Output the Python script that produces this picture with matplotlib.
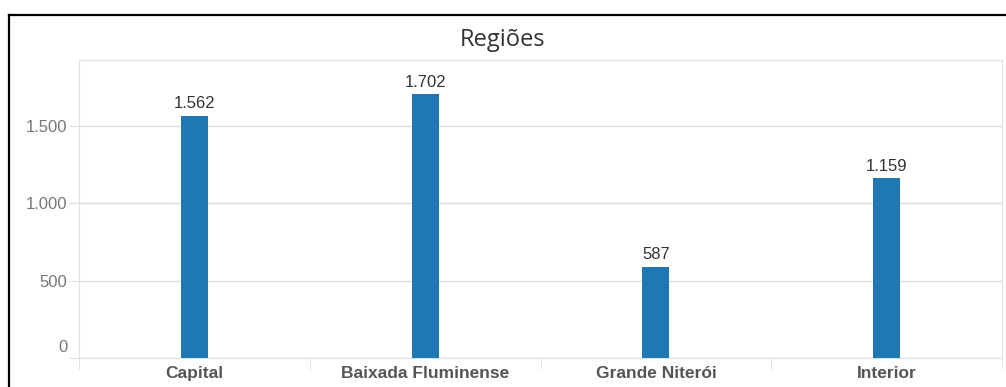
import numpy as np
import matplotlib.pyplot as plt
import matplotlib.transforms as mtransforms
from matplotlib.lines import Line2D

plt.rcParams['font.family'] = ['Liberation Sans', 'DejaVu Sans']

# dados
regioes = ['Capital', 'Baixada Fluminense', 'Grande Niterói', 'Interior']
valores = [1562, 1702, 587, 1159]
yticks = [0, 500, 1000, 1500]

def fmt(v):
    return '{:,}'.format(v).replace(',', '.')

fig = plt.figure(figsize=(10.06, 3.87), dpi=100)
ax = fig.add_axes([79/1006, 1 - 358/387, (1002-79)/1006, (358-60)/387])

x = np.arange(len(regioes))
ax.bar(x, valores, width=0.117, color='#1f77b4', zorder=3)
for xi, v in zip(x, valores):
    ax.text(xi, v + 30, fmt(v), ha='center', va='bottom', fontsize=12, color='#333333')

ax.set_xlim(-0.5, len(regioes) - 0.5)
ax.set_ylim(0, 1923)
ax.set_yticks(yticks)
ax.set_yticklabels([fmt(v) for v in yticks], color='#777777', fontsize=12)
ax.set_xticks(x)
ax.set_xticklabels(regioes, color='#555555', fontsize=12.5, fontweight='bold')
ax.tick_params(axis='x', length=0, pad=6)
ax.tick_params(axis='y', length=7, color='#dddddd', pad=1.5)
ax.set_xticks(np.arange(-0.5, len(regioes), 1), minor=True)
ax.tick_params(axis='x', which='minor', length=8, color='#dddddd')
ax.grid(axis='y', color='#dddddd', linewidth=1, zorder=0)
for s in ['left', 'right', 'top', 'bottom']:
    ax.spines[s].set_color('#e0e0e0')

# o rótulo "0" fica um pouco acima da linha base
lbl0 = ax.get_yticklabels()[0]
lbl0.set_transform(lbl0.get_transform() + mtransforms.ScaledTranslation(0, 12/100, fig.dpi_scale_trans))

fig.text(0.5, 1 - 40/387, 'Regiões', ha='center', va='center', fontsize=17,
         color='#333333', family='Open Sans')

# moldura preta
fig.add_artist(Line2D([9/1006, 9/1006], [0, 1 - 15/387], color='black', lw=1.6, transform=fig.transFigure))
fig.add_artist(Line2D([9/1006, 1], [1 - 15/387, 1 - 15/387], color='black', lw=1.6, transform=fig.transFigure))

fig.savefig('out.png', dpi=100)
